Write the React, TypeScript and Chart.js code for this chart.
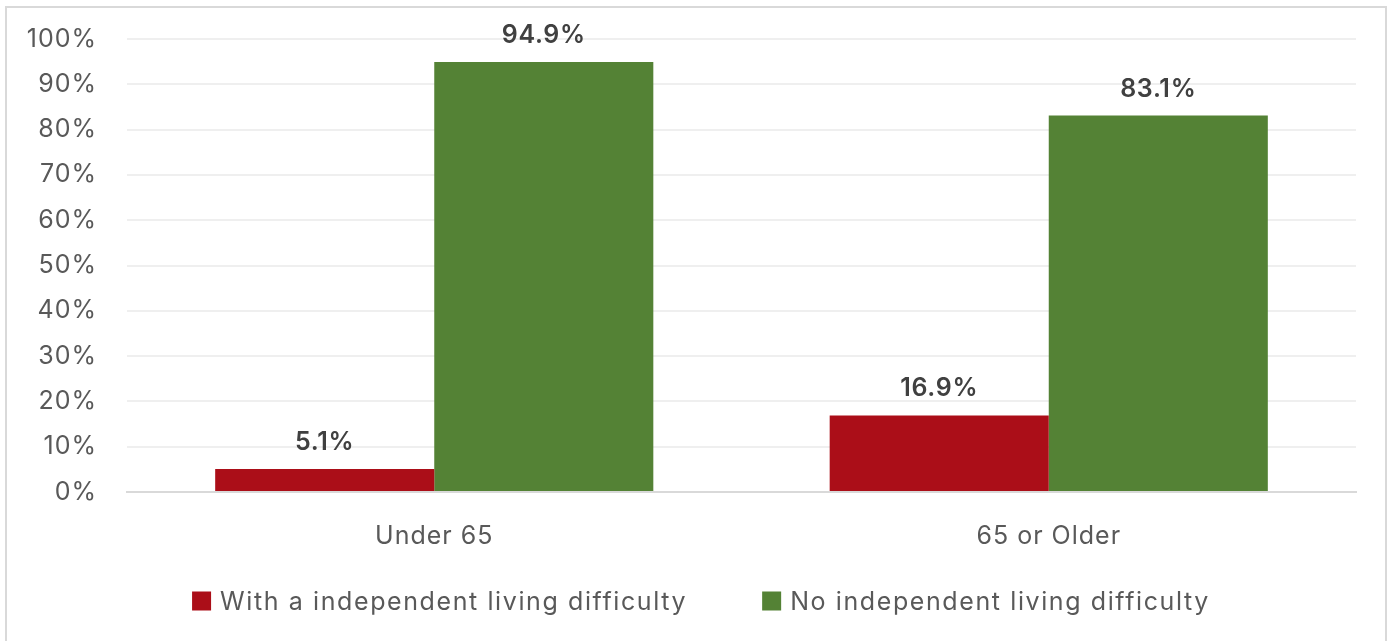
import React, { useEffect, useRef } from "react";
import { Chart, registerables } from "chart.js";

Chart.register(...registerables);

const categories = ["Under 65", "65 or Older"];
const withDifficulty = [5.1, 16.9];
const noDifficulty = [94.9, 83.1];
const seriesNames = ["With a independent living difficulty", "No independent living difficulty"];
const yTicks = [0, 10, 20, 30, 40, 50, 60, 70, 80, 90, 100];

const RED = "#AB0E18";
const GREEN = "#548235";
const FONT = "Inter, 'Open Sans', sans-serif";

// Slightly wider tracking for the axis text
const tracking = {
  id: "tracking",
  beforeDraw(chart: any) {
    chart.ctx.letterSpacing = "1px";
  },
};

// Writes each bar's value above it
const valueLabels = {
  id: "valueLabels",
  afterDatasetsDraw(chart: any) {
    const ctx = chart.ctx;
    ctx.save();
    ctx.letterSpacing = "0.7px";
    ctx.font = `600 25px ${FONT}`;
    ctx.fillStyle = "#404040";
    ctx.textAlign = "center";
    ctx.textBaseline = "alphabetic";
    chart.data.datasets.forEach((ds: any, di: number) => {
      const meta = chart.getDatasetMeta(di);
      meta.data.forEach((el: any, i: number) => {
        const v = ds.data[i] as number;
        ctx.fillText(`${v.toFixed(1)}%`, el.x, el.y - 19);
      });
    });
    ctx.restore();
  },
};

// Legend row under the axis, centred on the plot
const legendRow = {
  id: "legendRow",
  afterDraw(chart: any) {
    const ctx = chart.ctx;
    const box = 19;
    const textGap = 9;
    const itemGap = 75;
    const centreX = 701;
    const midY = 601;
    ctx.save();
    ctx.font = `400 25px ${FONT}`;
    ctx.letterSpacing = "1.6px";
    const items = chart.data.datasets.map((ds: any) => ({
      text: ds.label as string,
      color: ds.backgroundColor as string,
      w: ctx.measureText(ds.label).width,
    }));
    const total =
      items.reduce((s: number, it: any) => s + box + textGap + it.w, 0) + itemGap * (items.length - 1);
    let x = centreX - total / 2;
    ctx.textAlign = "left";
    ctx.textBaseline = "middle";
    items.forEach((it: any) => {
      ctx.fillStyle = it.color;
      ctx.fillRect(x, midY - box / 2, box, box);
      x += box + textGap;
      ctx.fillStyle = "#595959";
      ctx.fillText(it.text, x, midY + 1);
      x += it.w + itemGap;
    });
    ctx.restore();
  },
};

export default function App() {
  const ref = useRef<HTMLCanvasElement | null>(null);

  useEffect(() => {
    if (!ref.current) return;
    const chart = new Chart(ref.current, {
      type: "bar",
      data: {
        labels: categories,
        datasets: [
          { label: seriesNames[0], data: withDifficulty, backgroundColor: RED },
          { label: seriesNames[1], data: noDifficulty, backgroundColor: GREEN },
        ],
      },
      options: {
        responsive: false,
        animation: false,
        layout: { padding: { left: 0, right: 35, top: 39, bottom: 89 } },
        datasets: {
          bar: { categoryPercentage: 0.713, barPercentage: 1 },
        },
        scales: {
          x: {
            grid: { display: false, drawTicks: false },
            border: { display: true, color: "#d9d9d9", width: 2 },
            ticks: { color: "#595959", font: { family: FONT, size: 25 }, padding: 29 },
            afterFit(scale: any) {
              scale.height = 60;
              scale.paddingLeft = 0;
              scale.paddingRight = 0;
            },
          },
          y: {
            min: 0,
            max: 100,
            afterBuildTicks(scale: any) {
              scale.ticks = yTicks.map((v) => ({ value: v }));
            },
            grid: {
              color: (c: any) => (c.tick && c.tick.value === 0 ? "#d9d9d9" : "#efefef"),
              lineWidth: 2,
              drawTicks: false,
            },
            border: { display: false },
            ticks: {
              color: "#595959",
              font: { family: FONT, size: 25 },
              padding: 30,
              callback: (v: any) => `${v}%`,
            },
            afterFit(scale: any) {
              scale.width = 127;
              scale.paddingTop = 0;
              scale.paddingBottom = 0;
            },
          },
        },
        plugins: {
          legend: { display: false },
          tooltip: { enabled: false },
        },
      },
      plugins: [tracking, valueLabels, legendRow],
    });
    return () => chart.destroy();
  }, []);

  return (
    <div style={{ position: "fixed", left: 0, top: 0, width: 1391, height: 641, background: "#fff", overflow: "hidden" }}>
      <div
        style={{
          position: "absolute",
          left: 5,
          top: 6,
          width: 1378,
          height: 700,
          border: "2px solid #d9d9d9",
        }}
      />
      <canvas ref={ref} width={1391} height={641} style={{ position: "absolute", left: 0, top: 0, width: 1391, height: 641 }} />
    </div>
  );
}
